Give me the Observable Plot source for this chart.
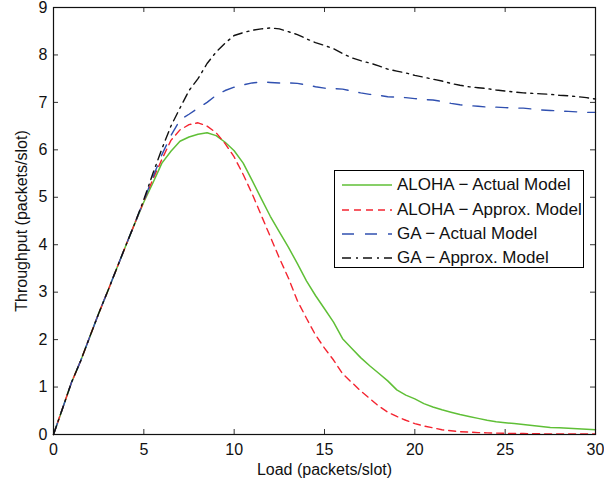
<!DOCTYPE html>
<html>
<head>
<meta charset="utf-8">
<script src="https://cdn.jsdelivr.net/npm/d3@7"></script>
<script src="https://cdn.jsdelivr.net/npm/@observablehq/plot@0.6"></script>
<style>
  html, body { margin: 0; padding: 0; background: #fff; }
  #wrap { position: relative; width: 604px; height: 485px; font-family: "Liberation Sans", Arial, sans-serif; }
  #legend { position: absolute; left: 334px; top: 170px; width: 250px; height: 98px; background: #fff; border: 1px solid #000; box-sizing: border-box; }
  .row { position: absolute; left: 0; height: 20px; display: flex; align-items: center; font-size: 17px; color: #111; white-space: nowrap; }
  .row svg { margin-left: 7px; margin-right: 5px; }
</style>
</head>
<body>
<div id="wrap"><div id="chart"></div><div id="legend"></div></div>
<script>
const load = [0,0.5,1,1.5,2,2.5,3,3.5,4,4.5,5,5.5,6,6.5,7,7.5,8,8.5,9,9.5,10,10.5,11,11.5,12,12.5,13,13.5,14,14.5,15,15.5,16,16.5,17,17.5,18,18.5,19,19.5,20,20.5,21,21.5,22,22.5,23,23.5,24,24.5,25,25.5,26,26.5,27,27.5,28,28.5,29,29.5,30];

const alohaActual = [0,0.55,1.1,1.55,2.05,2.55,3.02,3.5,3.98,4.45,4.9,5.3,5.72,5.97,6.18,6.27,6.33,6.36,6.3,6.16,5.98,5.72,5.35,4.97,4.6,4.27,3.95,3.6,3.24,2.93,2.65,2.37,2.02,1.82,1.62,1.45,1.29,1.13,0.94,0.83,0.75,0.65,0.58,0.52,0.47,0.42,0.38,0.34,0.3,0.27,0.25,0.23,0.21,0.19,0.17,0.15,0.14,0.13,0.12,0.11,0.1];

const alohaApprox = [0,0.55,1.1,1.55,2.05,2.55,3.02,3.5,3.98,4.45,4.92,5.38,5.8,6.2,6.42,6.53,6.57,6.5,6.36,6.13,5.85,5.48,5.07,4.62,4.17,3.72,3.3,2.82,2.45,2.1,1.82,1.57,1.28,1.1,0.92,0.76,0.6,0.47,0.38,0.3,0.23,0.18,0.14,0.1,0.08,0.06,0.05,0.04,0.035,0.03,0.025,0.02,0.02,0.015,0.015,0.01,0.01,0.01,0.01,0.01,0.01];

const gaActual = [0,0.55,1.1,1.55,2.05,2.55,3.02,3.5,3.98,4.45,4.93,5.42,5.9,6.3,6.63,6.75,6.88,7.0,7.15,7.25,7.32,7.37,7.41,7.43,7.42,7.41,7.41,7.4,7.37,7.33,7.3,7.29,7.28,7.24,7.2,7.17,7.15,7.12,7.11,7.1,7.08,7.06,7.05,7.02,6.98,6.95,6.93,6.92,6.9,6.9,6.89,6.88,6.88,6.86,6.84,6.83,6.82,6.81,6.8,6.79,6.79];

const gaApprox = [0,0.55,1.1,1.55,2.05,2.55,3.02,3.5,3.98,4.45,4.95,5.5,6.02,6.5,6.88,7.25,7.5,7.82,8.06,8.25,8.41,8.47,8.52,8.55,8.57,8.55,8.49,8.43,8.34,8.26,8.2,8.13,8.03,7.94,7.88,7.83,7.77,7.7,7.66,7.62,7.57,7.53,7.49,7.45,7.4,7.36,7.33,7.31,7.29,7.26,7.24,7.22,7.2,7.19,7.18,7.17,7.15,7.14,7.12,7.1,7.07];

const seriesNames = ["ALOHA \u2212 Actual Model", "ALOHA \u2212 Approx. Model", "GA \u2212 Actual Model", "GA \u2212 Approx. Model"];
const seriesValues = [alohaActual, alohaApprox, gaActual, gaApprox];
const seriesColors = ["#5fbf36", "#f42430", "#3050b0", "#111111"];
const seriesDash = [null, "7,5", "12,11", "9,5,2,5"];
const seriesWidth = [1.5, 1.4, 1.4, 1.4];

const xTicks = [0,5,10,15,20,25,30];
const yTicks = [0,1,2,3,4,5,6,7,8,9];

const W = 604, H = 485, mL = 53, mR = 9, mT = 7, mB = 51;
const pw = W - mL - mR, ph = H - mT - mB, tk = 5;

const rows = seriesValues.map((vals, i) => load.map((x, j) => ({x, y: vals[j], s: seriesNames[i]})));

const chart = Plot.plot({
  width: W, height: H,
  marginLeft: mL, marginRight: mR, marginTop: mT, marginBottom: mB,
  x: {domain: [0, 30]},
  y: {domain: [0, 9]},
  style: {fontFamily: "'Liberation Sans', Arial, sans-serif", fontSize: "16px", background: "#fff", color: "#111"},
  marks: [
    Plot.ruleX(xTicks, {x: d => d, insetTop: ph - tk, stroke: "#333"}),
    Plot.ruleX(xTicks, {x: d => d, insetBottom: ph - tk, stroke: "#333"}),
    Plot.ruleY(yTicks, {y: d => d, insetRight: pw - tk, stroke: "#333"}),
    Plot.ruleY(yTicks, {y: d => d, insetLeft: pw - tk, stroke: "#333"}),
    ...rows.map((r, i) => Plot.line(r, {x: "x", y: "y", stroke: seriesColors[i], strokeWidth: seriesWidth[i], strokeDasharray: seriesDash[i]})),
    Plot.frame({stroke: "#111", strokeWidth: 1.2}),
    Plot.axisX(xTicks, {tickSize: 0, tickPadding: 9, label: null}),
    Plot.axisY(yTicks, {tickSize: 0, tickPadding: 6, label: null}),
    Plot.text(["Load (packets/slot)"], {frameAnchor: "bottom", lineAnchor: "middle", textAnchor: "middle", dy: 35, fontSize: 16, fill: "#111"}),
    Plot.text(["Throughput (packets/slot)"], {frameAnchor: "left", textAnchor: "middle", lineAnchor: "middle", dx: -32, rotate: -90, fontSize: 16, fill: "#111"})
  ]
});
document.getElementById("chart").appendChild(chart);

const legend = document.getElementById("legend");
const rowY = [4, 29, 53, 77];
seriesNames.forEach((name, i) => {
  const row = document.createElement("div");
  row.className = "row";
  row.style.top = rowY[i] + "px";
  const dash = seriesDash[i] ? ` stroke-dasharray="${seriesDash[i]}"` : "";
  row.innerHTML = `<svg width="50" height="6"><line x1="0" y1="3" x2="50" y2="3" stroke="${seriesColors[i]}" stroke-width="${seriesWidth[i]}"${dash}/></svg><span>${name}</span>`;
  legend.appendChild(row);
});
</script>
</body>
</html>
